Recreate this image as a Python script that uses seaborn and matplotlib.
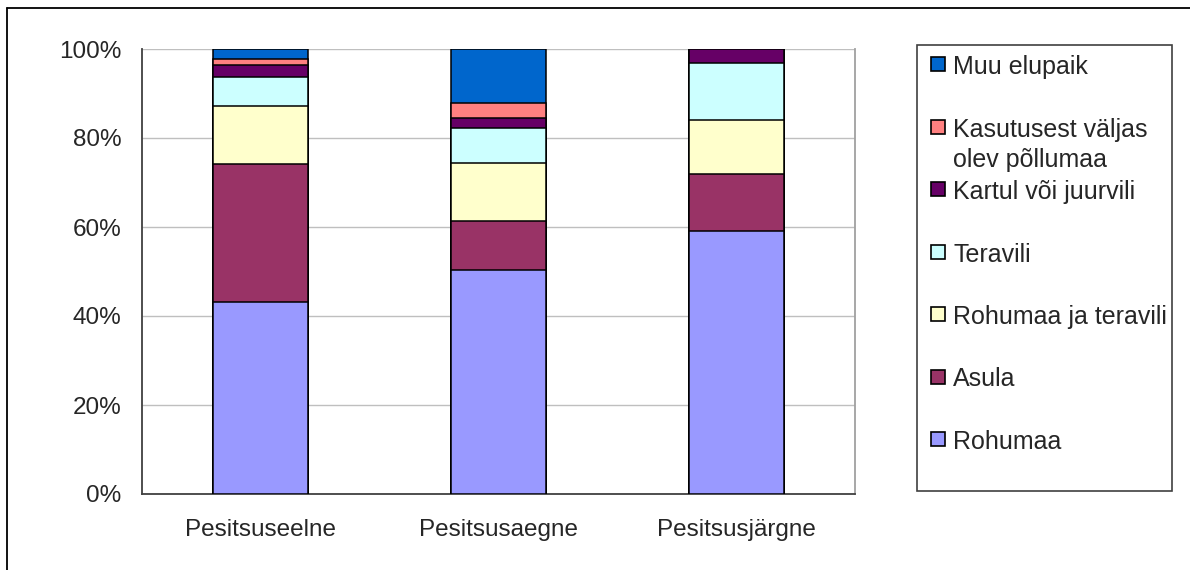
import numpy as np
import pandas as pd
import seaborn as sns
import matplotlib.pyplot as plt
from matplotlib.patches import Rectangle
from matplotlib.lines import Line2D

# Shares of nesting habitat types per breeding period (percent)
periods = ["Pesitsuseelne", "Pesitsusaegne", "Pesitsusjärgne"]
rohumaa = [43.1, 50.3, 59.1]
asula = [31.1, 11.0, 12.7]
rohumaa_teravili = [13.0, 13.1, 12.2]
teravili = [6.5, 7.9, 12.8]
kartul = [2.8, 2.3, 3.2]
kasutusest = [1.2, 3.2, 0.0]
muu = [2.3, 12.2, 0.0]

layer_names = ["Rohumaa", "Asula", "Rohumaa ja teravili", "Teravili",
               "Kartul või juurvili", "Kasutusest väljas\nolev põllumaa", "Muu elupaik"]
layer_colors = ["#9999FF", "#993366", "#FFFFCC", "#CCFFFF", "#660066", "#FF8080", "#0066CC"]

df = pd.DataFrame({"Rohumaa": rohumaa, "Asula": asula, "RjT": rohumaa_teravili,
                   "Teravili": teravili, "Kartul": kartul, "Kasutusest": kasutusest,
                   "Muu": muu}, index=periods)
# cumulative tops; normalise to 100 %
df = df.div(df.sum(axis=1), axis=0) * 100
cum = df.cumsum(axis=1)

sns.set_style("white")
plt.rcParams["font.family"] = ["Liberation Sans", "DejaVu Sans"]

W, H = 1190, 570
fig = plt.figure(figsize=(W / 100, H / 100), dpi=100)
ax = fig.add_axes([142 / W, (H - 494) / H, (855 - 142) / W, (494 - 49) / H])

# draw from the top layer down so lower layers overlay
for i in range(len(layer_names) - 1, -1, -1):
    col = cum.columns[i]
    sns.barplot(x=periods, y=cum[col].values, color=layer_colors[i], width=0.4,
                edgecolor="black", linewidth=1.1, saturation=1, ax=ax, zorder=3)

ax.set_xlim(-0.5, 2.5)
ax.set_ylim(0, 100)
ax.set_yticks(np.arange(0, 101, 20))
ax.set_yticklabels([f"{v}%" for v in range(0, 101, 20)])
ax.yaxis.grid(True, color="#BFBFBF", linewidth=1)
ax.set_axisbelow(True)
ax.set_xticks([-0.5, 0.5, 1.5, 2.5], minor=True)
ax.tick_params(axis="x", which="major", length=0, pad=18, labelsize=17.5)
ax.tick_params(axis="x", which="minor", length=6, width=1, color="#404040", direction="out")
ax.tick_params(axis="y", length=6, width=1, color="#404040", pad=9, labelsize=17.5, direction="out")
ax.set_xlabel("")
ax.set_ylabel("")
for s in ["left", "bottom"]:
    ax.spines[s].set_color("#404040")
    ax.spines[s].set_linewidth(1.3)
ax.spines["top"].set_visible(False)
ax.spines["right"].set_color("#A0A0A0")
ax.spines["right"].set_linewidth(1.3)

# legend drawn Excel-style: fixed slot per entry, multi-line label overflows downward
fig.add_artist(Rectangle((917 / W, (H - 491) / H), (1172 - 917) / W, (491 - 45) / H,
                         transform=fig.transFigure, facecolor="white",
                         edgecolor="#404040", linewidth=1.2))
order = list(range(len(layer_names) - 1, -1, -1))
for k, i in enumerate(order):
    yc = 64 + 62.5 * k
    fig.add_artist(Rectangle((931 / W, (H - yc - 7) / H), 14 / W, 14 / H,
                             transform=fig.transFigure, facecolor=layer_colors[i],
                             edgecolor="black", linewidth=1.2))
    fig.text(953 / W, (H - yc + 9) / H, layer_names[i], fontsize=18,
             va="top", ha="left", linespacing=1.32)

# outer chart border
fig.add_artist(Line2D([7 / W, 1], [(H - 8) / H, (H - 8) / H], transform=fig.transFigure,
                      color="black", linewidth=1.3))
fig.add_artist(Line2D([7 / W, 7 / W], [0, (H - 8) / H], transform=fig.transFigure,
                      color="black", linewidth=1.3))

fig.savefig("out.png", dpi=100)
